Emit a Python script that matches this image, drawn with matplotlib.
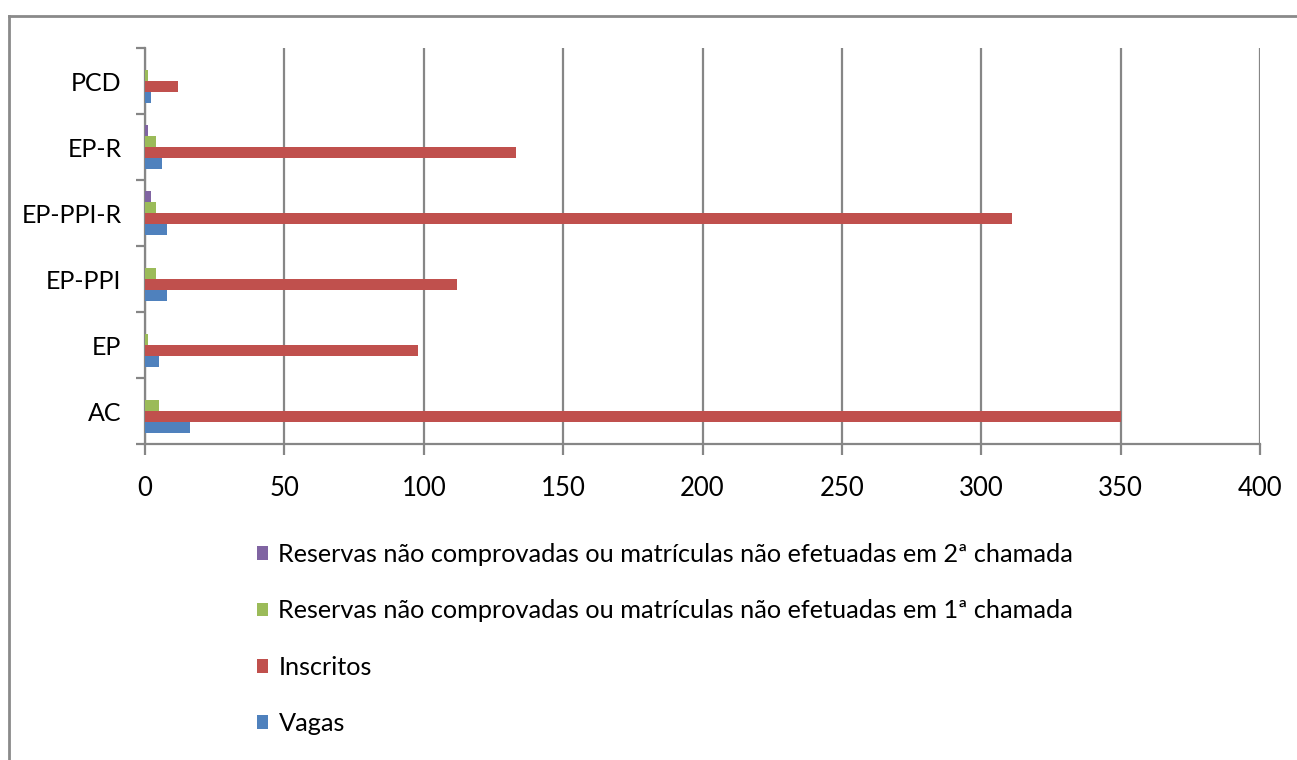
import matplotlib.pyplot as plt
import numpy as np
from matplotlib.lines import Line2D

plt.rcParams['font.family'] = ['Lato', 'DejaVu Sans']

categorias = ['AC', 'EP', 'EP-PPI', 'EP-PPI-R', 'EP-R', 'PCD']
vagas = [16, 5, 8, 8, 6, 2]
inscritos = [350, 98, 112, 311, 133, 12]
nao_efetuadas_1 = [5, 1, 4, 4, 4, 1]
nao_efetuadas_2 = [0, 0, 0, 2, 1, 0]

series = [
    ('Vagas', vagas, '#4F81BD'),
    ('Inscritos', inscritos, '#C0504D'),
    ('Reservas não comprovadas ou matrículas não efetuadas em 1ª chamada', nao_efetuadas_1, '#9BBB59'),
    ('Reservas não comprovadas ou matrículas não efetuadas em 2ª chamada', nao_efetuadas_2, '#8064A2'),
]

fig = plt.figure(figsize=(12.97, 7.6), dpi=100)
ax = fig.add_axes([145/1297, 1-444/760, 1115/1297, 396/760])

y = np.arange(len(categorias))
h = 0.167
handles = []
for i, (nome, vals, cor) in enumerate(series):
    b = ax.barh(y + (i - 1.5) * h, vals, height=h, color=cor, label=nome, zorder=3)
    handles.append(b)

grid_col = '#868686'
ax.set_xlim(0, 400)
ax.set_ylim(-0.5, 5.5)
ax.set_xticks(np.arange(0, 401, 50))
ax.xaxis.grid(True, color=grid_col, lw=1.6, zorder=0)
ax.set_yticks(np.arange(-0.5, 5.6, 1))
ax.set_yticklabels([])
ax.set_yticks(y, minor=True)
ax.set_yticklabels(categorias, minor=True)
ax.tick_params(axis='y', which='minor', length=0, pad=17, labelsize=18)
ax.tick_params(axis='y', which='major', length=6.5, width=1.6, color=grid_col)
ax.tick_params(axis='x', length=8, width=1.6, color=grid_col, pad=15, labelsize=18.5)
for s in ['top', 'right']:
    ax.spines[s].set_visible(False)
for s in ['left', 'bottom']:
    ax.spines[s].set_color(grid_col)
    ax.spines[s].set_linewidth(1.6)

fig.legend(handles[::-1], [s[0] for s in series][::-1], loc='upper left',
           bbox_to_anchor=(257/1297, 1-543/760), frameon=False, fontsize=18.2,
           handlelength=0.45, handleheight=0.45, handletextpad=0.4,
           labelspacing=1.32, borderaxespad=0, borderpad=0)

# moldura externa
borda = '#8a8a8a'
fig.add_artist(Line2D([9/1297, 9/1297], [0, 1-16/760], transform=fig.transFigure, color=borda, lw=2))
fig.add_artist(Line2D([9/1297, 1], [1-16/760, 1-16/760], transform=fig.transFigure, color=borda, lw=2))

fig.savefig('out.png', dpi=100)
